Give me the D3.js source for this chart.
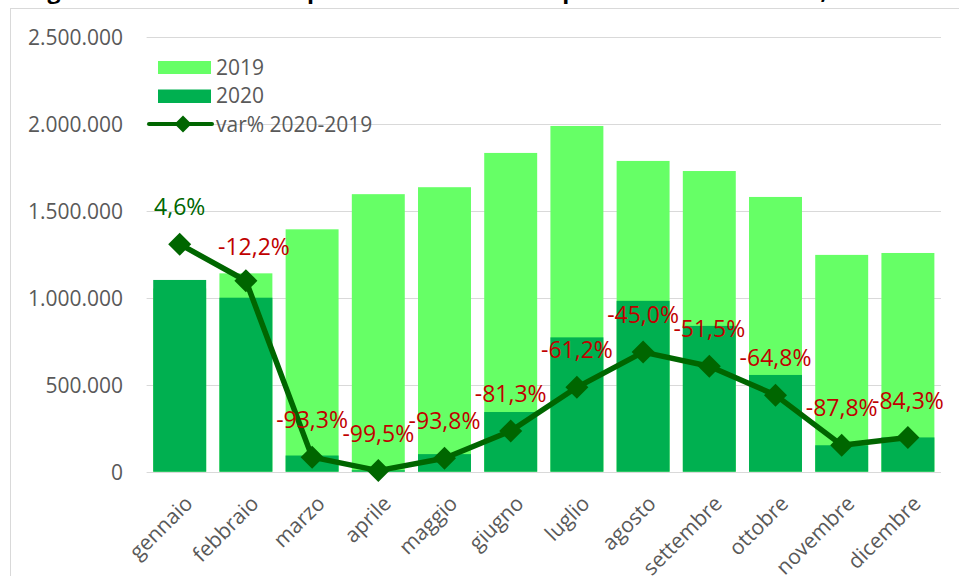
<!DOCTYPE html>
<html>
<head>
<meta charset="utf-8">
<script src="https://cdn.jsdelivr.net/npm/d3@7/dist/d3.min.js"></script>
<style>
  html, body { margin: 0; padding: 0; background: #ffffff; }
  svg { display: block; }
</style>
</head>
<body>
<svg id="chart" width="959" height="576"></svg>
<script>
// ---- data ----
const months = ["gennaio","febbraio","marzo","aprile","maggio","giugno","luglio","agosto","settembre","ottobre","novembre","dicembre"];
const values2019 = [1053000, 1140000, 1393000, 1595000, 1635000, 1832000, 1987000, 1786000, 1728000, 1579000, 1246000, 1257000];
const values2020 = [1102000, 1000000, 93000, 8000, 101000, 343000, 772000, 982000, 838000, 556000, 152000, 197000];
const varPct = [4.6, -12.2, -93.3, -99.5, -93.8, -81.3, -61.2, -45.0, -51.5, -64.8, -87.8, -84.3];
const yTicks = [0, 500000, 1000000, 1500000, 2000000, 2500000];
const seriesNames = ["2019", "2020", "var% 2020-2019"];
const titleText = "Figura 2 – Arrivi turistici per mese e variazione percentuale 2020/2019, Italia";

// ---- styles ----
const C2019 = "#66FF66", C2020 = "#00B050", CLINE = "#006600", CRED = "#C00000", CTXT = "#595959", CGRID = "#D9D9D9";
const FONT = "'Open Sans', 'Noto Sans', sans-serif";

const svg = d3.select("#chart");

// title (cut off at the top edge)
svg.append("text")
  .attr("x", 28).attr("y", -1.5)
  .attr("textLength", 864).attr("lengthAdjust", "spacingAndGlyphs")
  .attr("font-family", FONT).attr("font-weight", "bold").attr("font-size", 22)
  .attr("fill", "#000").text(titleText);

// chart border
svg.append("rect").attr("x", 10.5).attr("y", 8.5).attr("width", 980).attr("height", 620)
  .attr("fill", "none").attr("stroke", CGRID).attr("stroke-width", 1);

const plot = { left: 146.6, right: 941, top: 36.7, bottom: 471.7 };

const x = d3.scaleBand().domain(months).range([plot.left, plot.right]).paddingInner(0.2).paddingOuter(0.1);
const y = d3.scaleLinear().domain([0, 2500000]).range([plot.bottom, plot.top]);
const y2 = d3.scaleLinear().domain([-100, 100]).range([plot.bottom, plot.top]);

const fmt = d3.formatLocale({ decimal: ",", thousands: ".", grouping: [3], currency: ["", "€"], minus: "-" });
const fmtInt = fmt.format(",.0f");
const fmtPct = fmt.format(".1f");

// gridlines
svg.append("g").selectAll("line").data(yTicks).join("line")
  .attr("x1", plot.left).attr("x2", plot.right)
  .attr("y1", d => Math.round(y(d)) + 0.5).attr("y2", d => Math.round(y(d)) + 0.5)
  .attr("stroke", CGRID).attr("stroke-width", 1);

// y axis labels
const yAxis = d3.axisLeft(y).tickValues(yTicks).tickFormat(fmtInt).tickSize(0).tickPadding(0);
const gy = svg.append("g").attr("transform", "translate(123,0)").call(yAxis);
gy.select(".domain").remove();
gy.selectAll("text").attr("font-family", FONT).attr("font-size", 21).attr("fill", CTXT).attr("dy", "0.36em");

// bars 2019 (behind)
const bw = x.bandwidth();
svg.append("g").selectAll("rect").data(months).join("rect")
  .attr("x", d => x(d)).attr("width", bw)
  .attr("y", (d, i) => y(values2019[i])).attr("height", (d, i) => y(0) - y(values2019[i]))
  .attr("fill", C2019);
// bars 2020 (front, overlapped)
svg.append("g").selectAll("rect").data(months).join("rect")
  .attr("x", d => x(d)).attr("width", bw)
  .attr("y", (d, i) => y(values2020[i])).attr("height", (d, i) => y(0) - y(values2020[i]))
  .attr("fill", C2020);

// x axis labels
const xAxis = d3.axisBottom(x).tickSize(0).tickPadding(0);
const gx = svg.append("g").attr("transform", `translate(0,${plot.bottom})`).call(xAxis);
gx.select(".domain").remove();
gx.selectAll("text")
  .attr("font-family", FONT).attr("font-size", 21).attr("fill", CTXT)
  .attr("text-anchor", "end")
  .attr("transform", "translate(3,22) rotate(-45)")
  .attr("dy", "0.75em").attr("y", 0).attr("x", 0);

// line
const cx = d => x(d) + bw / 2;
const line = d3.line().x((d, i) => cx(months[i])).y(d => y2(d));
svg.append("path").datum(varPct).attr("d", line)
  .attr("fill", "none").attr("stroke", CLINE).attr("stroke-width", 5.5).attr("stroke-linejoin", "round");
const diamond = r => `M0,${-r}L${r},0L0,${r}L${-r},0Z`;
svg.append("g").selectAll("path").data(varPct).join("path")
  .attr("transform", (d, i) => `translate(${cx(months[i])},${y2(d)})`)
  .attr("d", diamond(11.5)).attr("fill", CLINE);

// data labels
const nudge = { 1: [8, 3] };
svg.append("g").selectAll("text").data(varPct).join("text")
  .attr("x", (d, i) => cx(months[i]) + (nudge[i] ? nudge[i][0] : 0))
  .attr("y", (d, i) => y2(d) - 29 + (nudge[i] ? nudge[i][1] : 0))
  .attr("text-anchor", "middle")
  .attr("font-family", FONT).attr("font-size", 23)
  .attr("fill", d => d >= 0 ? CLINE : CRED)
  .text(d => fmtPct(d) + "%");

// legend
const lg = svg.append("g");
lg.append("rect").attr("x", 158).attr("y", 61).attr("width", 53).attr("height", 13).attr("fill", C2019);
lg.append("rect").attr("x", 158).attr("y", 89.5).attr("width", 53).attr("height", 13.5).attr("fill", C2020);
lg.append("line").attr("x1", 149).attr("x2", 212).attr("y1", 124).attr("y2", 124)
  .attr("stroke", CLINE).attr("stroke-width", 4).attr("stroke-linecap", "round");
lg.append("path").attr("transform", "translate(183,124)").attr("d", diamond(8.5)).attr("fill", CLINE);
const legendY = [75, 103, 132];
lg.selectAll("text").data(seriesNames).join("text")
  .attr("x", 216).attr("y", (d, i) => legendY[i])
  .attr("font-family", FONT).attr("font-size", 21).attr("fill", CTXT)
  .text(d => d);
</script>
</body>
</html>
